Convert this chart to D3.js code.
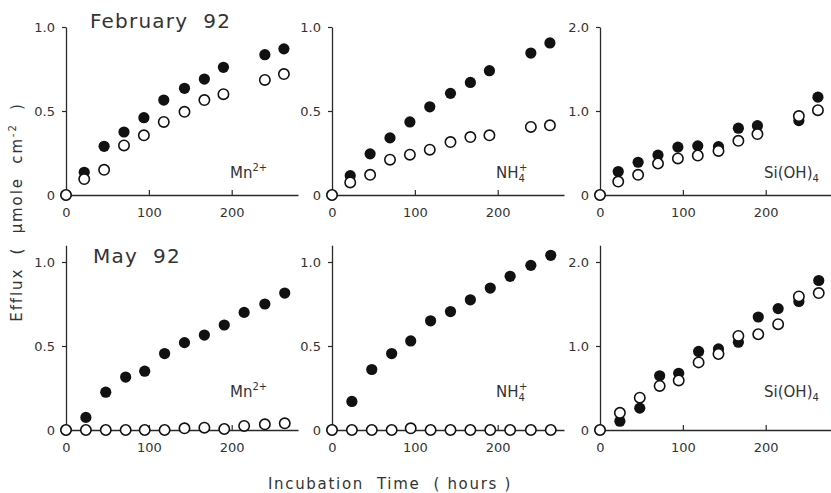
<!DOCTYPE html>
<html>
<head>
<meta charset="utf-8">
<script src="https://cdn.jsdelivr.net/npm/d3@7"></script>
<style>
    body { margin: 0; background: #fff; }
    text { font-family: "DejaVu Sans", sans-serif; fill: #333; }
</style>
</head>
<body>
<div id="chart"></div>
<script>
// incubation times (hours)
const hoursFeb = [0, 22, 46, 70, 94, 118, 143, 167, 190, 240, 263];
const hoursMay = [0, 24, 48, 72, 95, 119, 143, 167, 191, 215, 240, 264];

// February 92 (filled / open circles)
const febMnFilled = [0, 0.135, 0.29, 0.375, 0.46, 0.565, 0.635, 0.69, 0.76, 0.835, 0.87];
const febMnOpen = [0, 0.095, 0.15, 0.295, 0.355, 0.435, 0.495, 0.565, 0.6, 0.685, 0.72];
const febNhFilled = [0, 0.115, 0.245, 0.34, 0.435, 0.525, 0.605, 0.67, 0.74, 0.845, 0.905];
const febNhOpen = [0, 0.075, 0.12, 0.21, 0.24, 0.27, 0.315, 0.345, 0.355, 0.405, 0.415];
const febSiFilled = [0, 0.28, 0.39, 0.475, 0.57, 0.585, 0.575, 0.795, 0.825, 0.885, 1.165];
const febSiOpen = [0, 0.16, 0.24, 0.375, 0.435, 0.47, 0.525, 0.645, 0.725, 0.94, 1.01];

// May 92
const mayMnFilled = [0, 0.075, 0.225, 0.315, 0.35, 0.455, 0.52, 0.565, 0.625, 0.7, 0.75, 0.815];
const mayMnOpen = [0, 0, 0, 0, 0, 0, 0.01, 0.014, 0.006, 0.024, 0.034, 0.04];
const mayNhFilled = [0, 0.17, 0.36, 0.455, 0.53, 0.65, 0.705, 0.775, 0.845, 0.915, 0.98, 1.04];
const mayNhOpen = [0, 0, 0, 0, 0.01, 0, 0, 0, 0, 0, 0, 0];
const maySiFilled = [0, 0.105, 0.26, 0.645, 0.675, 0.935, 0.965, 1.045, 1.345, 1.445, 1.53, 1.78];
const maySiOpen = [0, 0.205, 0.385, 0.525, 0.59, 0.805, 0.905, 1.12, 1.14, 1.26, 1.59, 1.63];

const xTicks = [0, 100, 200];
const yTicksLow = [0, 0.5, 1.0];
const yTicksSi = [0, 1.0, 2.0];
const monthTitles = ['February 92', 'May 92'];

const width = 831;
const height = 493;
const colX = [66, 332, 600];
const rowY = [195, 430];
const axisLen = 232;   // px for 280 hours
const unitLen = 168;   // px from 0 to top tick
const ink = '#2a2a2a';

const panels = [
    { row: 0, col: 0, t: hoursFeb, filled: febMnFilled, open: febMnOpen, ticks: yTicksLow, ion: 'mn' },
    { row: 0, col: 1, t: hoursFeb, filled: febNhFilled, open: febNhOpen, ticks: yTicksLow, ion: 'nh' },
    { row: 0, col: 2, t: hoursFeb, filled: febSiFilled, open: febSiOpen, ticks: yTicksSi, ion: 'si' },
    { row: 1, col: 0, t: hoursMay, filled: mayMnFilled, open: mayMnOpen, ticks: yTicksLow, ion: 'mn' },
    { row: 1, col: 1, t: hoursMay, filled: mayNhFilled, open: mayNhOpen, ticks: yTicksLow, ion: 'nh' },
    { row: 1, col: 2, t: hoursMay, filled: maySiFilled, open: maySiOpen, ticks: yTicksSi, ion: 'si' }
];

const svg = d3.select('#chart')
    .append('svg')
    .attr('width', width)
    .attr('height', height);

const fmt = d => d === 0 ? '0' : d3.format('.1f')(d);

panels.forEach(p => {
    const x0 = colX[p.col];
    const y0 = rowY[p.row];
    const top = d3.max(p.ticks);
    const yMax = p.row === 0 ? top : top * 1.1;

    const xScale = d3.scaleLinear()
        .domain([0, 280])
        .range([x0, x0 + axisLen]);

    const yScale = d3.scaleLinear()
        .domain([0, yMax])
        .range([y0, y0 - unitLen * yMax / top]);

    const g = svg.append('g');

    const xAxis = d3.axisBottom(xScale)
        .tickValues(xTicks)
        .tickSizeInner(-5)
        .tickSizeOuter(0)
        .tickPadding(13);

    const yAxis = d3.axisLeft(yScale)
        .tickValues(p.ticks)
        .tickFormat(fmt)
        .tickSizeInner(4)
        .tickSizeOuter(0)
        .tickPadding(7);

    [g.append('g').attr('transform', 'translate(0,' + y0 + ')').call(xAxis),
     g.append('g').attr('transform', 'translate(' + x0 + ',0)').call(yAxis)]
        .forEach(a => {
            a.select('.domain').attr('stroke', ink).attr('stroke-width', 1.3);
            a.selectAll('.tick line').attr('stroke', ink).attr('stroke-width', 1.2);
            a.selectAll('.tick text')
                .attr('font-size', 13)
                .attr('font-family', '"DejaVu Sans", sans-serif')
                .attr('fill', '#333');
        });

    const pts = p.t.map((h, i) => ({ h: h, f: p.filled[i], o: p.open[i] }));

    g.selectAll('circle.filled')
        .data(pts)
        .enter()
        .append('circle')
        .attr('class', 'filled')
        .attr('cx', d => xScale(d.h))
        .attr('cy', d => yScale(d.f))
        .attr('r', 5.6)
        .attr('fill', '#111');

    g.selectAll('circle.open')
        .data(pts)
        .enter()
        .append('circle')
        .attr('class', 'open')
        .attr('cx', d => xScale(d.h))
        .attr('cy', d => yScale(d.o))
        .attr('r', 5.2)
        .attr('fill', '#fff')
        .attr('stroke', '#111')
        .attr('stroke-width', 1.6);

    // ion label
    const lx = x0 + 164;
    const ly = p.row === 0 ? y0 - 17 : y0 - 33;
    const t = g.append('text')
        .attr('x', lx)
        .attr('y', ly)
        .attr('font-size', 15);
    if (p.ion === 'mn') {
        t.append('tspan').text('Mn');
        t.append('tspan').attr('font-size', 10).attr('dy', -7).text('2+');
    } else if (p.ion === 'nh') {
        t.append('tspan').text('NH');
        t.append('tspan').attr('font-size', 10).attr('dy', 4).text('4');
        t.append('tspan').attr('font-size', 10).attr('dx', -6).attr('dy', -11).text('+');
    } else {
        t.append('tspan').text('Si(OH)');
        t.append('tspan').attr('font-size', 10).attr('dy', 4).text('4');
    }
});

// month titles
svg.selectAll('text.month')
    .data(monthTitles)
    .enter()
    .append('text')
    .attr('class', 'month')
    .attr('x', (d, i) => i === 0 ? 90 : 93)
    .attr('y', (d, i) => i === 0 ? 28 : 263)
    .attr('font-size', 20)
    .style('letter-spacing', '1.2px')
    .style('white-space', 'pre')
    .text(d => d.replace(' ', '  '));

// axis titles
svg.append('text')
    .attr('transform', 'translate(22,212) rotate(-90)')
    .attr('text-anchor', 'middle')
    .attr('font-size', 15)
    .style('letter-spacing', '1.9px')
    .style('white-space', 'pre')
    .call(t => {
        t.append('tspan').text('Efflux  (  \u00b5mole  cm');
        t.append('tspan').attr('font-size', 10).attr('dy', -6).text('-2');
        t.append('tspan').attr('dy', 6).text('  )');
    });

svg.append('text')
    .attr('x', 390)
    .attr('y', 489)
    .attr('text-anchor', 'middle')
    .attr('font-size', 15)
    .style('letter-spacing', '1.7px')
    .style('white-space', 'pre')
    .text('Incubation  Time  ( hours )');
</script>
</body>
</html>
